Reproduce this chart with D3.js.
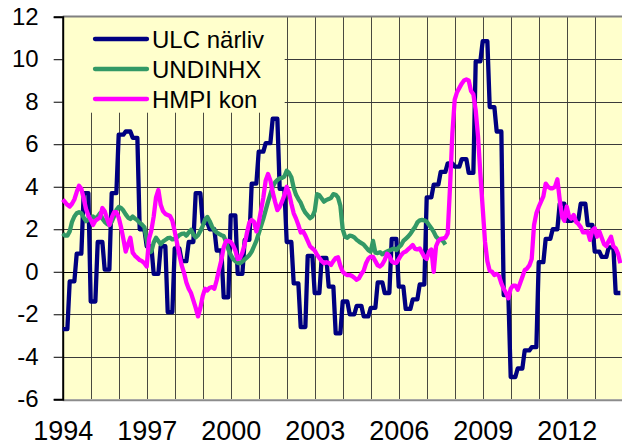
<!DOCTYPE html>
<html>
<head>
<meta charset="utf-8">
<script src="https://cdn.jsdelivr.net/npm/d3@7"></script>
<style>
  html, body { margin: 0; padding: 0; background: #ffffff; }
  svg { display: block; }
  text { font-family: "Liberation Sans", Arial, sans-serif; fill: #000; }
</style>
</head>
<body>
<svg id="chart" width="622" height="445"></svg>
<script>
// Axis ticks
const xTickYears = [1994, 1997, 2000, 2003, 2006, 2009, 2012];
const yTickValues = [-6, -4, -2, 0, 2, 4, 6, 8, 10, 12];

// Series names
const seriesNames = ["ULC närliv", "UNDINHX", "HMPI kon"];

// ULC närliv: quarterly values, 1994Q1 .. 2013Q4 (shown monthly, each quarter held for three months)
const ulcQuarterly = [
  -2.7, -0.45, 0.85, 3.7,
  -1.4, 1.4, 0.1, 3.7,
  6.45, 6.6, 6.3, 2.0,
  1.2, -0.1, 1.2, -1.9,
  1.1, 0.5, 1.4, 3.7,
  2.3, 2.0, 1.0, -1.2,
  2.65, -0.1, 1.5, 4.15,
  5.65, 6.05, 7.2, 3.9,
  1.4, -0.55, -2.6, 0.75,
  -1.0, 0.65, -0.7, -2.9,
  -1.4, -2.0, -1.6, -2.1,
  -1.7, -0.5, -1.0, 1.55,
  -0.7, -1.75, -1.3, -0.6,
  3.5, 4.1, 4.7, 5.1,
  4.95, 5.3, 4.65, 9.9,
  10.85, 7.75, 6.6, -1.1,
  -4.95, -4.55, -3.7, -3.55,
  0.45, 1.55, 2.0, 3.2,
  2.4, 2.45, 3.2, 2.2,
  0.95, 0.7, 1.15, -1.0
];

// UNDINHX: monthly values from January 1994
const undinhx = [
  1.8, 1.7, 1.7, 1.9, 2.35, 2.6, 2.75, 2.8, 2.75, 2.55, 2.38, 2.45,
  2.55, 2.6, 2.5, 2.6, 2.75, 2.5, 2.35, 2.25, 2.2, 2.35, 2.6, 2.9,
  3.05, 3.0, 2.88, 2.7, 2.55, 2.48, 2.6, 2.5, 2.42, 2.3, 2.22, 2.1,
  1.5, 0.9, 0.95, 1.38, 1.6, 1.45, 1.3, 1.42, 1.5, 1.58, 1.6, 1.52,
  1.55, 1.62, 1.72, 1.78, 1.8, 1.7, 1.85, 1.97, 1.75, 1.62, 1.72, 1.92,
  2.15, 2.45, 2.58, 2.38, 2.12, 1.95, 1.85, 1.78, 1.72, 1.68, 1.42, 1.05,
  0.8, 0.6, 0.5, 0.42, 0.4, 0.48, 0.58, 0.68, 0.78, 0.95, 1.2, 1.45,
  1.8, 2.15, 2.5, 2.9, 3.3, 3.65, 4.0, 4.2, 4.32, 4.4, 4.42, 4.48,
  4.75, 4.65, 4.45, 3.95, 3.62, 3.42, 3.25, 2.98, 2.78, 2.65, 2.52, 2.6,
  2.85, 3.65, 3.6, 3.45, 3.3, 3.38, 3.42, 3.48, 3.65, 3.62, 3.5, 3.1,
  2.0, 1.65, 1.6, 1.7, 1.68, 1.62, 1.5, 1.42, 1.35, 1.28, 1.15, 1.02,
  0.95, 1.45, 0.9, 0.88, 0.92, 0.82, 0.9, 0.95, 1.0, 1.05, 1.1, 1.02,
  1.15, 1.25, 1.45, 1.55, 1.65, 1.78, 1.95, 2.1, 2.32, 2.42, 2.44, 2.42,
  2.36, 2.2, 2.05, 1.88, 1.65, 1.55, 1.5, 1.45, 1.28
];

// HMPI kon: monthly values from January 1994
const hmpiKon = [
  3.4, 3.28, 3.15, 3.07, 3.2, 3.4, 3.75, 4.05, 3.9, 3.45, 2.95, 2.65,
  2.45, 2.2, 2.4, 2.48, 2.55, 3.0, 2.85, 2.5, 2.2, 2.55, 2.8, 2.8,
  2.55, 2.1, 1.55, 0.95, 1.3, 1.6, 0.9, 0.75, 0.65, 0.55, 0.5, 0.4,
  0.25, 1.55, 1.95, 2.6, 3.5, 3.85, 3.15, 2.85, 2.72, 2.67, 2.62, 2.4,
  1.9, 1.35, 0.8, 0.3, -0.05, -0.5, -0.8, -1.0, -1.35, -1.7, -2.1, -1.7,
  -1.15, -0.8, -0.88, -0.75, -0.72, -0.8, -0.4, 0.1, 0.55, 1.15, 1.45, 1.45,
  1.4, 1.25, 1.0, 0.6, 0.65, 0.9, 1.3, 1.85, 2.32, 2.44, 2.35, 1.9,
  2.3, 2.9, 3.5, 4.3, 4.6, 4.3, 3.75, 3.3, 2.9, 3.05, 3.3, 3.6,
  4.0, 3.7, 3.2, 2.75, 2.5, 2.2, 1.85, 1.9, 1.7, 1.45, 1.2, 1.1,
  1.0, 0.8, 0.65, 0.5, 0.4, 0.45, 0.42, 0.32, 0.5, 0.65, 0.68, 0.28,
  0.0, -0.1, -0.16, -0.15, -0.2, -0.28, -0.38, -0.3, -0.1, 0.05, 0.4, 0.62,
  0.71, 0.7, 0.5, 0.3, 0.25, 0.35, 0.55, 0.85, 0.75, 0.5, 0.42, 0.42,
  0.6, 0.78, 0.9, 0.95, 1.05, 1.15, 1.26, 1.08, 1.05, 1.1, 0.9, 0.7,
  0.6, 0.95, 1.05, 0.0, 1.2, 1.45, 1.55, 1.57, 1.6, 1.8, 4.0, 6.5,
  8.1, 8.45, 8.65, 8.85, 9.0, 9.05, 9.0, 8.5, 8.35, 7.6, 6.37, 4.6,
  3.0, 1.4, 0.5, 0.05, 0.0, -0.15, -0.1, -0.2, -0.55, -0.8, -1.0, -1.25,
  -0.8, -0.65, -0.65, -0.85, -0.55, -0.25, 0.08, 0.15, 0.3, 0.6, 2.2, 2.75,
  3.05, 3.3, 3.55, 4.15, 4.0, 3.93, 3.93, 4.0, 4.35, 3.4, 2.6, 2.4,
  3.07, 2.6, 2.5, 2.67, 2.35, 2.25, 2.1, 1.85, 1.85, 1.9, 1.5, 1.95,
  2.05, 1.65, 1.9, 1.6, 1.3, 1.2, 1.45, 1.65, 1.2, 1.1, 0.85, 0.4
];

const seriesColors = ["#000080", "#339966", "#ff00ff"];

// ---- layout ----
const svg = d3.select("#chart");
const plot = { left: 62.7, right: 622.7, top: 16.7, bottom: 399.3 };

const x = d3.scaleLinear().domain([1994, 2014]).range([plot.left, plot.right]);
const y = d3.scaleLinear().domain([-6, 12]).range([plot.bottom, plot.top]);

const toMonthly = arr => arr.map((v, i) => ({ t: 1994 + i / 12, v }));
const ulcMonthly = toMonthly(ulcQuarterly.flatMap(v => [v, v, v]));
const series = [ulcMonthly, toMonthly(undinhx), toMonthly(hmpiKon)];

// plot background
svg.append("rect")
  .attr("x", plot.left).attr("y", plot.top)
  .attr("width", plot.right - plot.left).attr("height", plot.bottom - plot.top)
  .attr("fill", "#ffffcc");

// gridlines
const grid = svg.append("g").attr("shape-rendering", "crispEdges");
grid.selectAll("line.v")
  .data(d3.range(1995, 2014))
  .join("line")
  .attr("x1", d => Math.round(x(d)) + 0.5).attr("x2", d => Math.round(x(d)) + 0.5)
  .attr("y1", plot.top).attr("y2", plot.bottom)
  .attr("stroke", "#4a4a40").attr("stroke-width", 1);
grid.selectAll("line.h")
  .data(yTickValues.filter(v => v > -6 && v < 12))
  .join("line")
  .attr("x1", plot.left).attr("x2", plot.right)
  .attr("y1", d => Math.round(y(d)) + 0.5).attr("y2", d => Math.round(y(d)) + 0.5)
  .attr("stroke", d => d === 0 ? "#000" : "#3a3a3a").attr("stroke-width", 1);

// legend panel (covers the gridlines behind it)
const legend = svg.append("g");
legend.append("rect")
  .attr("x", plot.left + 1).attr("y", plot.top)
  .attr("width", 221).attr("height", 96)
  .attr("fill", "#ffffcc");

// frame: top and bottom borders, left axis with ticks
svg.append("line")
  .attr("x1", plot.left).attr("x2", 622).attr("y1", 16.5).attr("y2", 16.5)
  .attr("stroke", "#808080").attr("stroke-width", 2);
svg.append("line")
  .attr("x1", plot.left).attr("x2", 622).attr("y1", 400.3).attr("y2", 400.3)
  .attr("stroke", "#8c8c8c").attr("stroke-width", 2);

// tick labels use a plain hyphen for negatives
const plainInt = d => String(d);

const yAxis = d3.axisLeft(y).tickValues(yTickValues).tickSize(9).tickPadding(15).tickFormat(plainInt);
const yAxisG = svg.append("g")
  .attr("transform", `translate(${plot.left},0)`)
  .call(yAxis);
yAxisG.select(".domain").attr("stroke", "#000").attr("stroke-width", 2);
yAxisG.selectAll(".tick line").attr("stroke", "#000").attr("stroke-width", 1);
yAxisG.selectAll(".tick text")
  .attr("font-family", "Liberation Sans, Arial, sans-serif")
  .attr("font-size", 24).attr("fill", "#000");

const xAxis = d3.axisBottom(x).tickValues(xTickYears).tickSize(0).tickPadding(21.5).tickFormat(plainInt);
const xAxisG = svg.append("g")
  .attr("transform", `translate(0,${plot.bottom})`)
  .call(xAxis);
xAxisG.select(".domain").remove();
xAxisG.selectAll(".tick text")
  .attr("font-family", "Liberation Sans, Arial, sans-serif")
  .attr("font-size", 27).attr("fill", "#000");

// data lines
const line = d3.line().x(d => x(d.t)).y(d => y(d.v));
svg.append("g")
  .selectAll("path")
  .data(series)
  .join("path")
  .attr("d", line)
  .attr("fill", "none")
  .attr("stroke", (d, i) => seriesColors[i])
  .attr("stroke-width", 4.3)
  .attr("stroke-linejoin", "round")
  .attr("stroke-linecap", "butt");

// legend entries
const rows = legend.selectAll("g.row")
  .data(seriesNames)
  .join("g")
  .attr("transform", (d, i) => `translate(0,${39 + i * 30})`);
rows.append("line")
  .attr("x1", 95).attr("x2", 147)
  .attr("y1", 0).attr("y2", 0)
  .attr("stroke", (d, i) => seriesColors[i])
  .attr("stroke-width", 4.3)
  .attr("stroke-linecap", "round");
rows.append("text")
  .attr("x", 152).attr("y", 0).attr("dy", "0.36em")
  .attr("font-size", 24)
  .text(d => d);
</script>
</body>
</html>
